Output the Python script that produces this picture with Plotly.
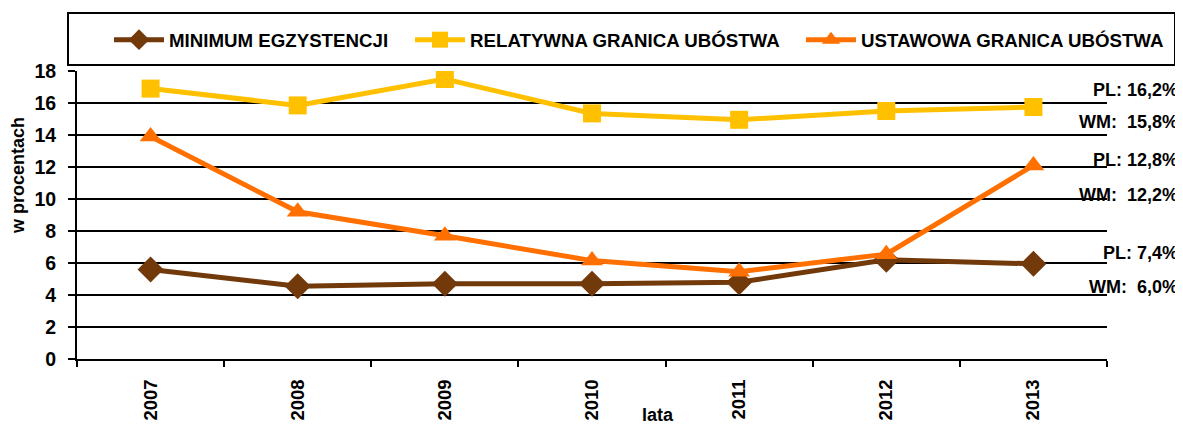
import plotly.graph_objects as go

years = ["2007", "2008", "2009", "2010", "2011", "2012", "2013"]

minimum = [5.6, 4.55, 4.7, 4.7, 4.8, 6.2, 5.95]
relatywna = [16.9, 15.85, 17.5, 15.35, 14.95, 15.5, 15.75]
ustawowa = [13.9, 9.2, 7.7, 6.15, 5.45, 6.55, 12.1]

series_names = ["MINIMUM EGZYSTENCJI", "RELATYWNA GRANICA UBÓSTWA", "USTAWOWA GRANICA UBÓSTWA"]
series_colors = ["#72390B", "#FFC000", "#FF7000"]

# right-side notes
notes = ["PL: 16,2%", "WM:  15,8%", "PL: 12,8%", "WM:  12,2%", "PL: 7,4%", "WM:  6,0%"]
notes_y = [90, 122, 160, 195, 253, 287]

FONT = "Liberation Sans, Arial, sans-serif"

# the page puts the figure 8px in from the top-left corner,
# so everything below is measured in page pixels and shifted back
OFF = 8
W, H = 1183 - OFF, 424 - OFF
PLOT_L, PLOT_R, PLOT_T, PLOT_B = 77, 1107, 71, 359
L = PLOT_L - OFF
T = PLOT_T - OFF
R = W - (PLOT_R - OFF)
B = H - (PLOT_B - OFF)


def px(xpix):
    return (xpix - PLOT_L) / (PLOT_R - PLOT_L)


def py(ypix):
    return (PLOT_B - ypix) / (PLOT_B - PLOT_T)


fig = go.Figure()

fig.add_trace(go.Scatter(
    x=years, y=minimum, name=series_names[0], mode="lines+markers",
    line=dict(color=series_colors[0], width=5),
    marker=dict(symbol="diamond", size=20, color=series_colors[0]),
    legend="legend",
))
fig.add_trace(go.Scatter(
    x=years, y=relatywna, name=series_names[1], mode="lines+markers",
    line=dict(color=series_colors[1], width=5),
    marker=dict(symbol="square", size=18, color=series_colors[1]),
    legend="legend2",
))
fig.add_trace(go.Scatter(
    x=years, y=ustawowa, name=series_names[2], mode="lines+markers",
    line=dict(color=series_colors[2], width=5),
    marker=dict(symbol="triangle-up", size=19, color=series_colors[2]),
    legend="legend3",
))

annotations = [
    dict(text=t, x=px(1180), y=py(yy), xref="paper", yref="paper",
         xanchor="right", yanchor="middle", showarrow=False,
         font=dict(family=FONT, size=18, color="black", weight="bold"))
    for t, yy in zip(notes, notes_y)
]
annotations.append(dict(
    text="w procentach", textangle=-90, x=px(18), y=py(176),
    xref="paper", yref="paper", xanchor="center", yanchor="middle",
    showarrow=False, font=dict(family=FONT, size=18, color="black", weight="bold"),
))
annotations.append(dict(
    text="lata", x=px(658), y=py(427), xref="paper", yref="paper",
    xanchor="center", yanchor="bottom", showarrow=False,
    font=dict(family=FONT, size=18, color="black", weight="bold"),
))


def legend_at(xpix):
    return dict(
        orientation="h",
        x=px(xpix), y=py(40),
        xanchor="left", yanchor="middle",
        font=dict(family=FONT, size=18.7, color="black", weight="bold"),
        bgcolor="rgba(0,0,0,0)",
        itemwidth=50,
    )


fig.update_layout(
    width=W, height=H,
    margin=dict(l=L, r=R, t=T, b=B, autoexpand=False),
    paper_bgcolor="white",
    plot_bgcolor="white",
    font=dict(family=FONT, size=18, color="black", weight="bold"),
    showlegend=True,
    legend=legend_at(109),
    legend2=legend_at(410),
    legend3=legend_at(801),
    shapes=[dict(
        type="rect", xref="paper", yref="paper",
        x0=px(68), x1=px(1175), y0=py(65), y1=py(13),
        line=dict(color="black", width=2), fillcolor="rgba(0,0,0,0)",
        layer="below",
    )],
    annotations=annotations,
    xaxis=dict(
        type="category",
        range=[-0.5, 6.5],
        automargin=False,
        showgrid=False,
        showline=True, linecolor="black", linewidth=2,
        ticks="outside", tickson="boundaries", ticklen=6,
        tickcolor="black", tickwidth=2,
        tickangle=-90, ticklabelstandoff=11,
        tickfont=dict(family=FONT, size=18.5, color="black", weight="bold"),
    ),
    yaxis=dict(
        range=[0, 18], dtick=2,
        automargin=False,
        showgrid=True, gridcolor="black", gridwidth=2,
        zeroline=False,
        showline=True, linecolor="black", linewidth=2,
        ticks="outside", ticklen=7, tickcolor="black", tickwidth=2,
        ticklabelstandoff=8,
        tickfont=dict(family=FONT, size=19.5, color="black", weight="bold"),
    ),
)

fig.write_html("out.html")
